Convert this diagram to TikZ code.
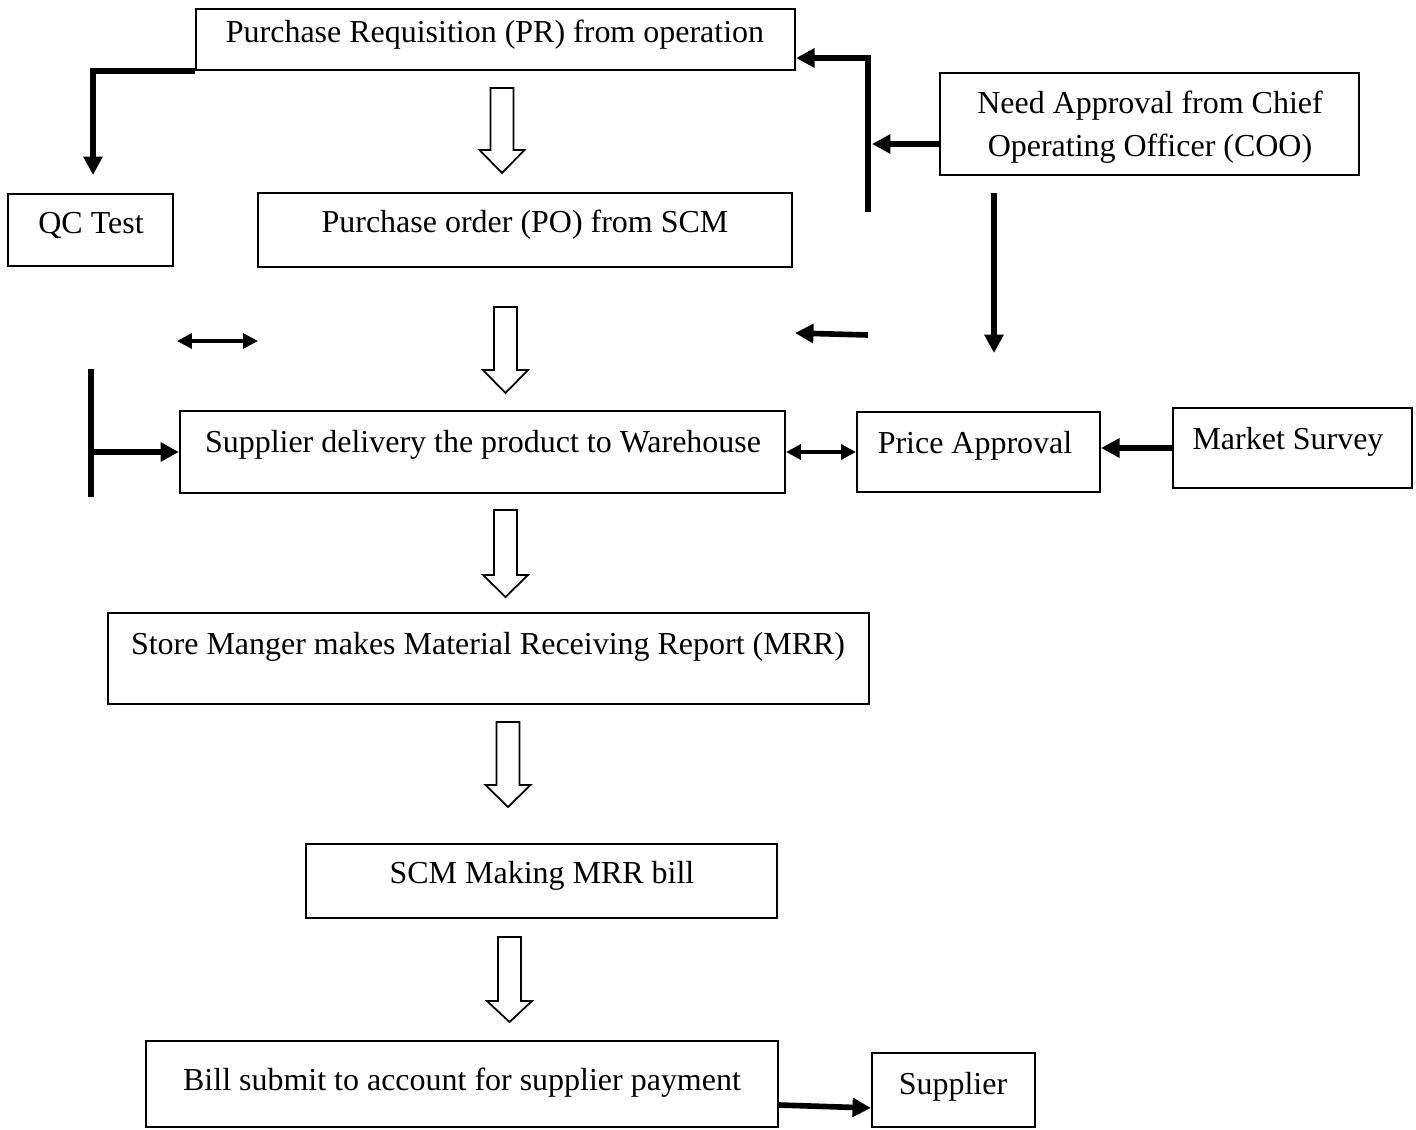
\documentclass[tikz,border=0pt]{standalone}
\usepackage{fontspec}
\setmainfont{Liberation Serif}
\usetikzlibrary{arrows.meta,fit}

% x, top, start of head, tip
\newcommand{\hollowarrow}[4]{%
	\draw[hollow] (#1-11.5,#2) -- (#1+11.5,#2) -- (#1+11.5,#3) -- (#1+22.5,#3) -- (#1,#4) -- (#1-22.5,#3) -- (#1-11.5,#3) -- cycle;}

\begin{document}
\begin{tikzpicture}[x=0.02cm,y=-0.02cm,
	box/.style={draw,line width=1.2pt,inner sep=0pt},
	txt/.style={anchor=base,inner sep=0pt,font=\fontsize{18.2}{24.4}\selectfont},
	hollow/.style={draw,line width=1pt,line join=miter},
	bar/.style={line width=3.2pt},
	fatarrow/.style={line width=3.2pt,-{Triangle[length=10.5pt,width=10.5pt]}},
	twoway/.style={line width=1.8pt,{Triangle[length=8.5pt,width=8.5pt]}-{Triangle[length=8.5pt,width=8.5pt]}}]
	\useasboundingbox (0,0) rectangle (1416,1129);

	%BOXES
	\node[box,fit={(196,9) (795,70)}] (pr) {};
	\node[box,fit={(8,194) (173,266)}] (qc) {};
	\node[box,fit={(258,193) (792,267)}] (po) {};
	\node[box,fit={(940,73) (1359,175)}] (coo) {};
	\node[box,fit={(180,411) (785,493)}] (sd) {};
	\node[box,fit={(857,412) (1100,492)}] (pa) {};
	\node[box,fit={(1173,408) (1412,488)}] (ms) {};
	\node[box,fit={(108,613) (869,704)}] (mrr) {};
	\node[box,fit={(306,844) (777,918)}] (scm) {};
	\node[box,fit={(146,1041) (778,1127)}] (bill) {};
	\node[box,fit={(872,1053) (1035,1127)}] (sup) {};

	%TEXTS
	\node[txt] (prtext) at (495,42) {Purchase Requisition (PR) from operation};
	\node[txt] (qctext) at (91,233) {QC Test};
	\node[txt] (potext) at (525,232) {Purchase order (PO) from SCM};
	\node[txt,align=center] (cootext) at (1150,156) {Need Approval from Chief\\Operating Officer (COO)};
	\node[txt] (sdtext) at (483,452) {Supplier delivery the product to Warehouse};
	\node[txt] (patext) at (975,453) {Price Approval};
	\node[txt] (mstext) at (1288,449) {Market Survey};
	\node[txt] (mrrtext) at (488,654) {Store Manger makes Material Receiving Report (MRR)};
	\node[txt] (scmtext) at (542,883) {SCM Making MRR bill};
	\node[txt] (billtext) at (462,1090) {Bill submit to account for supplier payment};
	\node[txt] (suptext) at (953,1094) {Supplier};

	%MAIN FLOW
	\hollowarrow{502}{88}{150}{173}
	\hollowarrow{505.5}{307}{370}{393}
	\hollowarrow{505.5}{510}{575}{597}
	\hollowarrow{508}{722}{785}{807}
	\hollowarrow{509.5}{937}{1001}{1022}

	%SIDE CONNECTORS
	\coordinate (qcend) at (93,175);
	\draw[fatarrow] (pr.south west) -| (qcend);
	\coordinate (rbtop) at (868,58);
	\coordinate (rbbot) at (868,212);
	\coordinate (rbmid) at (872,144);
	\draw[fatarrow] (rbbot) -- (rbtop) -- (pr.east |- rbtop);
	\draw[fatarrow] (coo.west |- rbmid) -- (rbmid);
	\coordinate (fa1) at (868,335);
	\coordinate (fa2) at (795,333);
	\draw[fatarrow] (fa1) -- (fa2);
	\coordinate (dn1) at (994,193);
	\coordinate (dn2) at (994,353);
	\draw[fatarrow] (dn1) -- (dn2);
	\coordinate (da1) at (177,341);
	\coordinate (da2) at (258,341);
	\draw[twoway] (da1) -- (da2);
	\coordinate (lb1) at (91,369);
	\coordinate (lb2) at (91,497);
	\draw[bar] (lb1) -- (lb2);
	\draw[fatarrow] (lb1 |- sd.west) -- (sd.west);
	\draw[twoway,line width=2.2pt] (sd.east) -- (pa.west);
	\draw[fatarrow] (ms.west) -- (ms.west -| pa.east);
	\draw[fatarrow] (bill.east |- 0,1105) -- (sup.west |- 0,1108);
\end{tikzpicture}
\end{document}
